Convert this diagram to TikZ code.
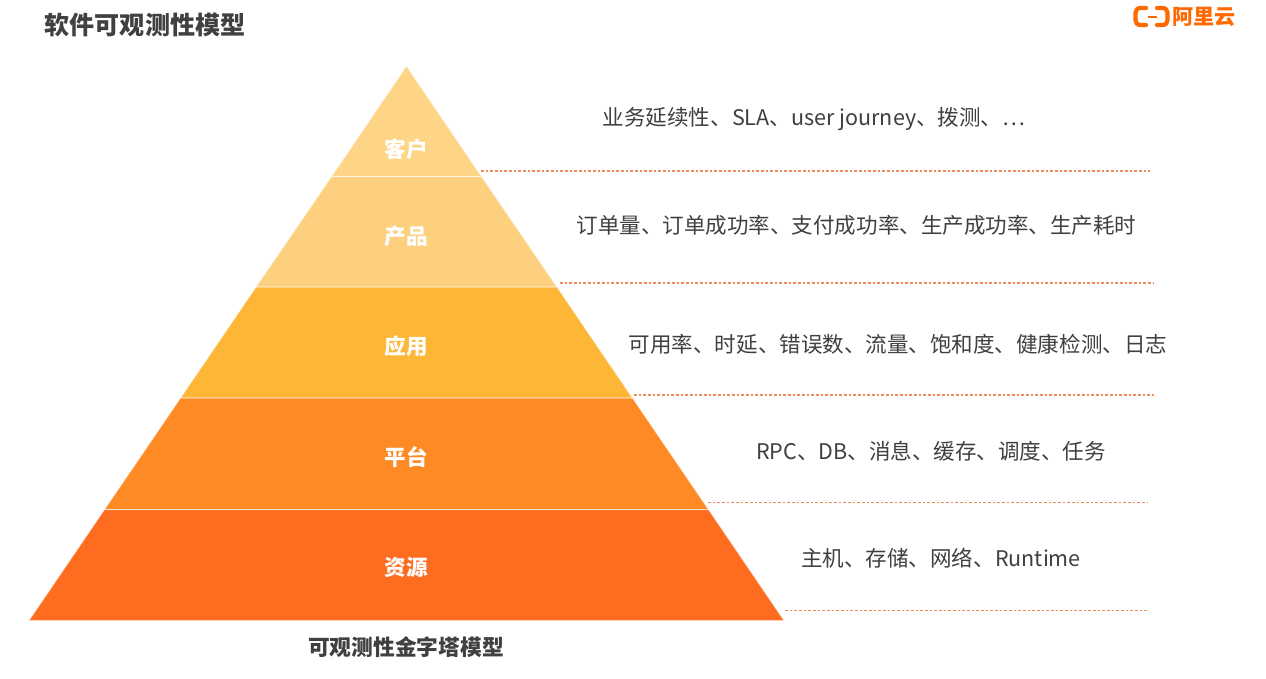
\documentclass[tikz,border=0pt]{standalone}
\usepackage{fontspec}
\setmainfont{Noto Sans CJK SC}
\definecolor{txt}{HTML}{404040}
\definecolor{lay1}{HTML}{FED587}
\definecolor{lay2}{HTML}{FDD07F}
\definecolor{lay3}{HTML}{FDB636}
\definecolor{lay4}{HTML}{FE8A25}
\definecolor{lay5}{HTML}{FE6C20}
\definecolor{logo}{HTML}{FF6A00}
\definecolor{dash}{HTML}{F58A5A}
\tikzset{
  x=0.75pt,y=-0.75pt,
  layer/.style={line width=0.75pt,draw=white,draw opacity=0.55},
  laylabel/.style={text=white,font=\fontsize{16.2pt}{18pt}\selectfont\bfseries,anchor=center,inner sep=0},
  desc/.style={text=txt,font=\fontsize{16.15pt}{18pt}\selectfont,anchor=center,inner sep=0},
  heading/.style={text=txt,font=\fontsize{18.8pt}{20pt}\selectfont\bfseries,anchor=center,inner sep=0},
  leader/.style={draw=dash,line width=1.1pt,dash pattern=on 2pt off 1.5pt},
  logobr/.style={draw=logo,line width=3.2pt,line cap=round,line join=round}
}
\begin{document}
\begin{tikzpicture}
\useasboundingbox (0,0) rectangle (1266,678);
\fill[white] (0,0) rectangle (1266,678);
% pyramid
\filldraw[layer,fill=lay1] (406.5,66) -- (481.5,176.5) -- (331.5,176.5) -- cycle;
\filldraw[layer,fill=lay2] (331.5,176.5) -- (481.5,176.5) -- (557,287) -- (256,287) -- cycle;
\filldraw[layer,fill=lay3] (256,287) -- (557,287) -- (632.5,398) -- (180.5,398) -- cycle;
\filldraw[layer,fill=lay4] (180.5,398) -- (632.5,398) -- (708.5,509.5) -- (104.5,509.5) -- cycle;
\filldraw[layer,fill=lay5] (104.5,509.5) -- (708.5,509.5) -- (784,620.5) -- (29,620.5) -- cycle;
% layer labels
\node[laylabel] (l1) at (406,149) {客户};
\node[laylabel] (l2) at (406,236) {产品};
\node[laylabel] (l3) at (406,346) {应用};
\node[laylabel] (l4) at (406,457) {平台};
\node[laylabel] (l5) at (406,567) {资源};
% leaders
\coordinate (a1) at (481,171); \coordinate (b1) at (1150,171);
\coordinate (a2) at (560,283); \coordinate (b2) at (1154,283);
\coordinate (a3) at (634,395); \coordinate (b3) at (1154,395);
\coordinate (a4) at (708,502.5); \coordinate (b4) at (1148,502.5);
\coordinate (a5) at (785,610.5); \coordinate (b5) at (1149,610.5);
\draw[leader] (a1) -- (b1);
\draw[leader] (a2) -- (b2);
\draw[leader] (a3) -- (b3);
\draw[leader] (a4) -- (b4);
\draw[leader] (a5) -- (b5);
% descriptions
\node[desc] (d1) at (814,119.5) {业务延续性、SLA、user journey、拨测、…};
\node[desc] (d2) at (856.5,225.5) {订单量、订单成功率、支付成功率、生产成功率、生产耗时};
\node[desc] (d3) at (898,344) {可用率、时延、错误数、流量、饱和度、健康检测、日志};
\node[desc] (d4) at (931,451) {RPC、DB、消息、缓存、调度、任务};
\node[desc] (d5) at (941,558) {主机、存储、网络、Runtime};
% headings
\node[heading] (title) at (145,25) {软件可观测性模型};
\node[heading,font=\fontsize{16.3pt}{18pt}\selectfont\bfseries] (cap) at (406,647) {可观测性金字塔模型};
% logo
\draw[logobr] (1146,8) -- (1141,8) .. controls (1137,8) and (1135.5,10) .. (1135.5,13) -- (1135.5,20) .. controls (1135.5,23) and (1137,25) .. (1141,25) -- (1146,25);
\draw[logobr] (1157,8) -- (1162,8) .. controls (1166,8) and (1167.5,10) .. (1167.5,13) -- (1167.5,20) .. controls (1167.5,23) and (1166,25) .. (1162,25) -- (1157,25);
\draw[draw=logo,line width=1.4pt] (1147.5,17) -- (1157,17);
\node[text=logo,font=\fontsize{15.8pt}{18pt}\selectfont\bfseries,anchor=center,inner sep=0] (brand) at (1204,17) {阿里云};
\end{tikzpicture}
\end{document}
